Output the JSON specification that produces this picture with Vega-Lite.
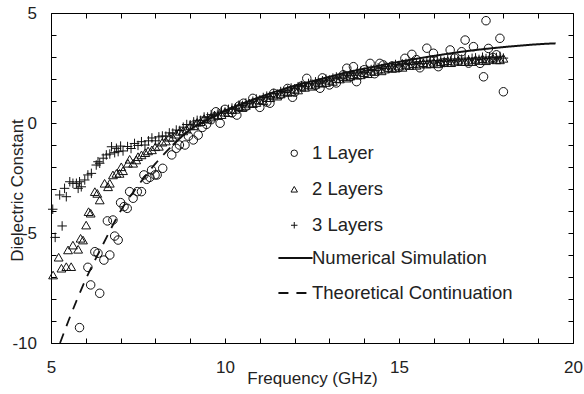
{
  "$schema": "https://vega.github.io/schema/vega-lite/v6.json",
  "width": 522,
  "height": 330,
  "autosize": {"type": "none"},
  "padding": {"left": 51, "top": 13, "right": 11, "bottom": 51},
  "background": "white",
  "config": {
    "view": {"stroke": "#000", "strokeWidth": 1},
    "font": "Liberation Sans",
    "axis": {"grid": false, "domain": false, "tickColor": "#000", "tickWidth": 1, "labelFont": "Liberation Sans", "titleFont": "Liberation Sans", "labelFontSize": 17, "titleFontSize": 17, "labelColor": "#222", "titleColor": "#222", "titleFontWeight": "normal", "labelFlush": false, "labelOverlap": false, "labelBound": false},
    "legend": {"labelFont": "Liberation Sans", "labelFontSize": 18.5, "labelColor": "#222", "labelLimit": 400, "padding": 0, "title": null}
  },
  "datasets": {
    "l1": [
      {"f": 5.82, "e": -9.3}, {"f": 6.06, "e": -6.56}, {"f": 6.14, "e": -7.36}, {"f": 6.26, "e": -5.85}, {"f": 6.35, "e": -5.92}, {"f": 6.4, "e": -7.74}, {"f": 6.52, "e": -6.23}, {"f": 6.62, "e": -4.45}, {"f": 6.69, "e": -6.0}, {"f": 6.78, "e": -4.41}, {"f": 6.83, "e": -5.14}, {"f": 6.93, "e": -5.32}, {"f": 7.0, "e": -3.62}, {"f": 7.1, "e": -3.8}, {"f": 7.19, "e": -3.88}, {"f": 7.26, "e": -3.12}, {"f": 7.36, "e": -3.42}, {"f": 7.48, "e": -3.12}, {"f": 7.6, "e": -3.12}, {"f": 7.67, "e": -2.36}, {"f": 7.75, "e": -2.56}, {"f": 7.84, "e": -2.47}, {"f": 7.89, "e": -2.14}, {"f": 7.99, "e": -2.36}, {"f": 8.05, "e": -2.36}, {"f": 8.21, "e": -2.06},
      {"f": 8.47, "e": -1.45}, {"f": 8.6, "e": -1.15}, {"f": 8.69, "e": -1.0}, {"f": 8.85, "e": -1.0}, {"f": 8.95, "e": -0.6}, {"f": 9.09, "e": -0.77}, {"f": 9.23, "e": -0.55}, {"f": 9.35, "e": -0.2}, {"f": 9.47, "e": -0.06}, {"f": 9.6, "e": 0.15}, {"f": 9.74, "e": 0.51}, {"f": 9.86, "e": -0.01},
      {"f": 10.0, "e": 0.62}, {"f": 10.2, "e": 0.46}, {"f": 10.34, "e": 0.36}, {"f": 10.4, "e": 0.77}, {"f": 10.53, "e": 0.9}, {"f": 10.6, "e": 0.75}, {"f": 10.8, "e": 1.12}, {"f": 11.0, "e": 0.71}, {"f": 11.2, "e": 0.95}, {"f": 11.29, "e": 0.9}, {"f": 11.4, "e": 1.35}, {"f": 11.6, "e": 1.3}, {"f": 11.8, "e": 1.57}, {"f": 11.94, "e": 1.17}, {"f": 12.0, "e": 1.4}, {"f": 12.2, "e": 1.68}, {"f": 12.35, "e": 2.03}, {"f": 12.6, "e": 1.71}, {"f": 12.73, "e": 1.58}, {"f": 12.8, "e": 2.05}, {"f": 13.0, "e": 1.73}, {"f": 13.2, "e": 1.82}, {"f": 13.4, "e": 2.19}, {"f": 13.5, "e": 2.49}, {"f": 13.6, "e": 2.11}, {"f": 13.69, "e": 2.56}, {"f": 13.78, "e": 1.88}, {"f": 14.0, "e": 2.42}, {"f": 14.17, "e": 2.71}, {"f": 14.3, "e": 2.24}, {"f": 14.45, "e": 2.71}, {"f": 14.55, "e": 2.64}, {"f": 14.8, "e": 2.59}, {"f": 15.0, "e": 2.52}, {"f": 15.17, "e": 2.94}, {"f": 15.37, "e": 3.12}, {"f": 15.5, "e": 2.88}, {"f": 15.6, "e": 2.51}, {"f": 15.8, "e": 3.4}, {"f": 15.99, "e": 3.17}, {"f": 16.0, "e": 2.87}, {"f": 16.13, "e": 2.56}, {"f": 16.3, "e": 2.75}, {"f": 16.47, "e": 3.32}, {"f": 16.6, "e": 2.95}, {"f": 16.8, "e": 3.24}, {"f": 16.9, "e": 3.77}, {"f": 17.0, "e": 2.72}, {"f": 17.14, "e": 3.47}, {"f": 17.33, "e": 2.71}, {"f": 17.43, "e": 2.1}, {"f": 17.5, "e": 4.65}, {"f": 17.57, "e": 3.39}, {"f": 17.7, "e": 2.98}, {"f": 17.8, "e": 3.1}, {"f": 17.9, "e": 3.85}, {"f": 18.0, "e": 1.42}
    ],
    "l2": [
      {"f": 5.06, "e": -6.91}, {"f": 5.22, "e": -6.1}, {"f": 5.3, "e": -6.6}, {"f": 5.44, "e": -6.53}, {"f": 5.49, "e": -5.77}, {"f": 5.58, "e": -6.53}, {"f": 5.63, "e": -5.55}, {"f": 5.78, "e": -5.74}, {"f": 5.85, "e": -5.24}, {"f": 5.92, "e": -5.32}, {"f": 6.01, "e": -4.64}, {"f": 6.08, "e": -4.03}, {"f": 6.14, "e": -4.1}, {"f": 6.26, "e": -3.12}, {"f": 6.33, "e": -3.2}, {"f": 6.4, "e": -3.5}, {"f": 6.54, "e": -2.74}, {"f": 6.64, "e": -2.9}, {"f": 6.69, "e": -2.74}, {"f": 6.78, "e": -2.36}, {"f": 6.88, "e": -2.29}, {"f": 6.97, "e": -2.29}, {"f": 7.02, "e": -1.99}, {"f": 7.07, "e": -2.17}, {"f": 7.21, "e": -1.83}, {"f": 7.26, "e": -1.65}, {"f": 7.36, "e": -1.83}, {"f": 7.45, "e": -1.68}, {"f": 7.5, "e": -1.53}, {"f": 7.6, "e": -1.45}, {"f": 7.71, "e": -1.35}, {"f": 7.79, "e": -1.27},
      {"f": 7.9, "e": -1.22}, {"f": 8.0, "e": -1.08}, {"f": 8.1, "e": -1.06}, {"f": 8.2, "e": -0.87}, {"f": 8.3, "e": -0.82}, {"f": 8.4, "e": -0.65}, {"f": 8.5, "e": -0.65}, {"f": 8.6, "e": -0.51}, {"f": 8.7, "e": -0.38}, {"f": 8.8, "e": -0.36}, {"f": 8.9, "e": -0.28}, {"f": 9.0, "e": -0.13}, {"f": 9.1, "e": -0.13}, {"f": 9.2, "e": 0.03}, {"f": 9.3, "e": 0.06}, {"f": 9.4, "e": 0.2}, {"f": 9.5, "e": 0.17}, {"f": 9.6, "e": 0.27}, {"f": 9.7, "e": 0.36}, {"f": 9.8, "e": 0.34}, {"f": 9.9, "e": 0.38},
      {"f": 10.0, "e": 0.49}, {"f": 10.1, "e": 0.47}, {"f": 10.2, "e": 0.61}, {"f": 10.3, "e": 0.62}, {"f": 10.4, "e": 0.74}, {"f": 10.5, "e": 0.7}, {"f": 10.6, "e": 0.8}, {"f": 10.7, "e": 0.9}, {"f": 10.8, "e": 0.88}, {"f": 10.9, "e": 0.93},
      {"f": 11.0, "e": 1.04}, {"f": 11.1, "e": 1.01}, {"f": 11.2, "e": 1.15}, {"f": 11.3, "e": 1.15}, {"f": 11.4, "e": 1.27}, {"f": 11.5, "e": 1.22}, {"f": 11.6, "e": 1.32}, {"f": 11.7, "e": 1.41}, {"f": 11.8, "e": 1.39}, {"f": 11.9, "e": 1.43},
      {"f": 12.0, "e": 1.54}, {"f": 12.1, "e": 1.5}, {"f": 12.2, "e": 1.63}, {"f": 12.3, "e": 1.62}, {"f": 12.4, "e": 1.73}, {"f": 12.5, "e": 1.67}, {"f": 12.6, "e": 1.76}, {"f": 12.7, "e": 1.84}, {"f": 12.8, "e": 1.81}, {"f": 12.9, "e": 1.84},
      {"f": 13.0, "e": 1.94}, {"f": 13.1, "e": 1.89}, {"f": 13.2, "e": 2.02}, {"f": 13.3, "e": 2.0}, {"f": 13.4, "e": 2.11}, {"f": 13.5, "e": 2.04}, {"f": 13.6, "e": 2.13}, {"f": 13.7, "e": 2.2}, {"f": 13.8, "e": 2.17}, {"f": 13.9, "e": 2.19},
      {"f": 14.0, "e": 2.29}, {"f": 14.1, "e": 2.24}, {"f": 14.2, "e": 2.36}, {"f": 14.3, "e": 2.34}, {"f": 14.4, "e": 2.44}, {"f": 14.5, "e": 2.37}, {"f": 14.6, "e": 2.45}, {"f": 14.7, "e": 2.52}, {"f": 14.8, "e": 2.48}, {"f": 14.9, "e": 2.5},
      {"f": 15.0, "e": 2.59}, {"f": 15.1, "e": 2.53}, {"f": 15.2, "e": 2.64}, {"f": 15.3, "e": 2.61}, {"f": 15.4, "e": 2.7}, {"f": 15.5, "e": 2.62}, {"f": 15.6, "e": 2.68}, {"f": 15.7, "e": 2.74}, {"f": 15.8, "e": 2.68}, {"f": 15.9, "e": 2.69},
      {"f": 16.0, "e": 2.76}, {"f": 16.1, "e": 2.69}, {"f": 16.2, "e": 2.79}, {"f": 16.3, "e": 2.75}, {"f": 16.4, "e": 2.83}, {"f": 16.5, "e": 2.74}, {"f": 16.6, "e": 2.8}, {"f": 16.7, "e": 2.85}, {"f": 16.8, "e": 2.79}, {"f": 16.9, "e": 2.79},
      {"f": 17.0, "e": 2.86}, {"f": 17.1, "e": 2.79}, {"f": 17.2, "e": 2.89}, {"f": 17.3, "e": 2.84}, {"f": 17.4, "e": 2.92}, {"f": 17.5, "e": 2.83}, {"f": 17.6, "e": 2.89}, {"f": 17.7, "e": 2.94}, {"f": 17.8, "e": 2.87}, {"f": 17.9, "e": 2.87}, {"f": 18.0, "e": 2.94}
    ],
    "l3": [
      {"f": 5.05, "e": -3.92}, {"f": 5.12, "e": -5.2}, {"f": 5.25, "e": -3.27}, {"f": 5.32, "e": -4.68}, {"f": 5.39, "e": -2.97}, {"f": 5.44, "e": -3.35}, {"f": 5.54, "e": -2.67}, {"f": 5.63, "e": -2.74}, {"f": 5.73, "e": -2.74}, {"f": 5.78, "e": -2.97}, {"f": 5.82, "e": -2.67}, {"f": 5.87, "e": -2.9}, {"f": 5.97, "e": -2.59}, {"f": 6.06, "e": -2.36}, {"f": 6.16, "e": -2.29}, {"f": 6.3, "e": -1.91}, {"f": 6.35, "e": -1.76}, {"f": 6.4, "e": -1.83}, {"f": 6.5, "e": -1.6}, {"f": 6.59, "e": -1.45}, {"f": 6.69, "e": -1.41}, {"f": 6.74, "e": -1.08}, {"f": 6.83, "e": -1.35}, {"f": 6.88, "e": -1.15}, {"f": 6.93, "e": -1.3}, {"f": 7.0, "e": -1.05}, {"f": 7.07, "e": -1.27},
      {"f": 7.2, "e": -1.07}, {"f": 7.3, "e": -1.16}, {"f": 7.4, "e": -0.93}, {"f": 7.5, "e": -1.02}, {"f": 7.6, "e": -0.85}, {"f": 7.7, "e": -1.0}, {"f": 7.8, "e": -0.81}, {"f": 7.9, "e": -0.68}, {"f": 8.0, "e": -0.81}, {"f": 8.1, "e": -0.63}, {"f": 8.2, "e": -0.59}, {"f": 8.3, "e": -0.6}, {"f": 8.4, "e": -0.45}, {"f": 8.5, "e": -0.46}, {"f": 8.6, "e": -0.32}, {"f": 8.7, "e": -0.34}, {"f": 8.8, "e": -0.19}, {"f": 8.9, "e": -0.07}, {"f": 9.0, "e": -0.08}, {"f": 9.1, "e": 0.05}, {"f": 9.2, "e": 0.12}, {"f": 9.3, "e": 0.12}, {"f": 9.4, "e": 0.27}, {"f": 9.5, "e": 0.27}, {"f": 9.6, "e": 0.38}, {"f": 9.7, "e": 0.33}, {"f": 9.8, "e": 0.45}, {"f": 9.9, "e": 0.54},
      {"f": 10.0, "e": 0.5}, {"f": 10.1, "e": 0.62}, {"f": 10.2, "e": 0.68}, {"f": 10.3, "e": 0.67}, {"f": 10.4, "e": 0.81}, {"f": 10.5, "e": 0.8}, {"f": 10.6, "e": 0.91}, {"f": 10.7, "e": 0.87}, {"f": 10.8, "e": 0.99}, {"f": 10.9, "e": 1.09},
      {"f": 11.0, "e": 1.05}, {"f": 11.1, "e": 1.16}, {"f": 11.2, "e": 1.22}, {"f": 11.3, "e": 1.2}, {"f": 11.4, "e": 1.34}, {"f": 11.5, "e": 1.32}, {"f": 11.6, "e": 1.43}, {"f": 11.7, "e": 1.38}, {"f": 11.8, "e": 1.5}, {"f": 11.9, "e": 1.59},
      {"f": 12.0, "e": 1.55}, {"f": 12.1, "e": 1.65}, {"f": 12.2, "e": 1.7}, {"f": 12.3, "e": 1.67}, {"f": 12.4, "e": 1.8}, {"f": 12.5, "e": 1.77}, {"f": 12.6, "e": 1.87}, {"f": 12.7, "e": 1.81}, {"f": 12.8, "e": 1.92}, {"f": 12.9, "e": 2.0},
      {"f": 13.0, "e": 1.95}, {"f": 13.1, "e": 2.04}, {"f": 13.2, "e": 2.09}, {"f": 13.3, "e": 2.05}, {"f": 13.4, "e": 2.18}, {"f": 13.5, "e": 2.14}, {"f": 13.6, "e": 2.24}, {"f": 13.7, "e": 2.17}, {"f": 13.8, "e": 2.28}, {"f": 13.9, "e": 2.35},
      {"f": 14.0, "e": 2.3}, {"f": 14.1, "e": 2.39}, {"f": 14.2, "e": 2.43}, {"f": 14.3, "e": 2.39}, {"f": 14.4, "e": 2.51}, {"f": 14.5, "e": 2.47}, {"f": 14.6, "e": 2.56}, {"f": 14.7, "e": 2.49}, {"f": 14.8, "e": 2.59}, {"f": 14.9, "e": 2.66},
      {"f": 15.0, "e": 2.6}, {"f": 15.1, "e": 2.68}, {"f": 15.2, "e": 2.71}, {"f": 15.3, "e": 2.66}, {"f": 15.4, "e": 2.77}, {"f": 15.5, "e": 2.72}, {"f": 15.6, "e": 2.79}, {"f": 15.7, "e": 2.71}, {"f": 15.8, "e": 2.79}, {"f": 15.9, "e": 2.85},
      {"f": 16.0, "e": 2.77}, {"f": 16.1, "e": 2.84}, {"f": 16.2, "e": 2.86}, {"f": 16.3, "e": 2.8}, {"f": 16.4, "e": 2.9}, {"f": 16.5, "e": 2.84}, {"f": 16.6, "e": 2.91}, {"f": 16.7, "e": 2.82}, {"f": 16.8, "e": 2.9}, {"f": 16.9, "e": 2.95},
      {"f": 17.0, "e": 2.87}, {"f": 17.1, "e": 2.94}, {"f": 17.2, "e": 2.96}, {"f": 17.3, "e": 2.89}, {"f": 17.4, "e": 2.99}, {"f": 17.5, "e": 2.93}, {"f": 17.6, "e": 3.0}, {"f": 17.7, "e": 2.91}, {"f": 17.8, "e": 2.98}, {"f": 17.9, "e": 3.03}, {"f": 18.0, "e": 2.95}
    ],
    "sim": [
      {"f": 8.5, "e": -1.0}, {"f": 9.0, "e": -0.3}, {"f": 9.5, "e": 0.15}, {"f": 10.0, "e": 0.55}, {"f": 10.5, "e": 0.88}, {"f": 11.0, "e": 1.18}, {"f": 11.5, "e": 1.45}, {"f": 12.0, "e": 1.7}, {"f": 12.5, "e": 1.9}, {"f": 13.0, "e": 2.1}, {"f": 13.5, "e": 2.3}, {"f": 14.0, "e": 2.47}, {"f": 14.5, "e": 2.63}, {"f": 15.0, "e": 2.78}, {"f": 15.5, "e": 2.92}, {"f": 16.0, "e": 3.05}, {"f": 16.5, "e": 3.17}, {"f": 17.0, "e": 3.28}, {"f": 17.5, "e": 3.37}, {"f": 18.0, "e": 3.45}, {"f": 18.5, "e": 3.52}, {"f": 19.0, "e": 3.58}, {"f": 19.5, "e": 3.62}
    ],
    "theory": [
      {"f": 5.26, "e": -10.0}, {"f": 5.5, "e": -9.0}, {"f": 6.0, "e": -7.1}, {"f": 6.5, "e": -5.5}, {"f": 7.0, "e": -4.0}, {"f": 7.5, "e": -2.85}, {"f": 8.0, "e": -1.85}, {"f": 8.5, "e": -1.0}
    ]
  },
  "resolve": {"scale": {"x": "independent", "y": "independent"}},
  "layer": [
    {
      "encoding": {
        "x": {"field": "f", "type": "quantitative", "scale": {"domain": [5, 20], "nice": false, "zero": false},
          "axis": {"orient": "bottom", "title": "Frequency (GHz)", "values": [5, 6, 7, 8, 9, 10, 11, 12, 13, 14, 15, 16, 17, 18, 19, 20], "labelExpr": "datum.value % 5 === 0 ? '' + datum.value : ''", "tickSize": -5, "labelPadding": 34, "labelBaseline": "alphabetic", "titleY": 40, "titleBaseline": "alphabetic"}},
        "y": {"field": "e", "type": "quantitative", "scale": {"domain": [-10, 5], "nice": false, "zero": false},
          "axis": {"orient": "left", "title": "Dielectric Constant", "values": [-10, -9, -8, -7, -6, -5, -4, -3, -2, -1, 0, 1, 2, 3, 4, 5], "labelExpr": "datum.value % 5 === 0 ? '' + datum.value : ''", "tickSize": -5, "labelPadding": 19.5, "titleX": -33.5, "titleY": 177, "titleBaseline": "middle"}}
      },
      "layer": [
        {
          "data": {"name": "l1"},
          "mark": {"type": "point", "filled": false, "size": 72, "strokeWidth": 1, "color": "#111", "opacity": 1},
          "encoding": {"shape": {"datum": "1 Layer", "type": "nominal",
            "scale": {"domain": ["1 Layer", "2 Layers", "3 Layers"], "range": ["circle", "triangle-up", "M-1,0H1M0,-1V1"]},
            "legend": {"orient": "none", "legendX": 234, "legendY": 131, "symbolSize": 42, "symbolStrokeWidth": 1, "symbolStrokeColor": "#111", "symbolFillColor": "transparent", "rowPadding": 17, "labelOffset": 8.5}}}
        },
        {
          "data": {"name": "l2"},
          "mark": {"type": "point", "filled": false, "size": 78, "strokeWidth": 1, "color": "#111", "opacity": 1},
          "encoding": {"shape": {"datum": "2 Layers", "type": "nominal",
            "scale": {"domain": ["1 Layer", "2 Layers", "3 Layers"], "range": ["circle", "triangle-up", "M-1,0H1M0,-1V1"]}}}
        },
        {
          "data": {"name": "l3"},
          "mark": {"type": "point", "filled": false, "size": 90, "strokeWidth": 1, "color": "#111", "opacity": 1},
          "encoding": {"shape": {"datum": "3 Layers", "type": "nominal",
            "scale": {"domain": ["1 Layer", "2 Layers", "3 Layers"], "range": ["circle", "triangle-up", "M-1,0H1M0,-1V1"]}}}
        },
        {
          "data": {"name": "theory"},
          "mark": {"type": "line", "color": "#111", "strokeWidth": 1.8, "interpolate": "monotone"},
          "encoding": {"strokeDash": {"datum": "Theoretical Continuation", "type": "nominal",
            "scale": {"domain": ["Numerical Simulation", "Theoretical Continuation"], "range": [[1, 0], [10, 8]]},
            "legend": {"orient": "none", "legendX": 226, "legendY": 226.5, "symbolType": "stroke", "symbolSize": 1166, "symbolStrokeWidth": 2, "symbolStrokeColor": "#111", "rowPadding": 7, "labelOffset": -2}}}
        },
        {
          "data": {"name": "sim"},
          "mark": {"type": "line", "color": "#111", "strokeWidth": 2, "interpolate": "monotone"},
          "encoding": {"strokeDash": {"datum": "Numerical Simulation", "type": "nominal",
            "scale": {"domain": ["Numerical Simulation", "Theoretical Continuation"], "range": [[1, 0], [10, 8]]}}}
        }
      ]
    },
    {
      "data": {"name": "sim"},
      "mark": {"type": "point", "opacity": 0},
      "encoding": {
        "x": {"field": "f", "type": "quantitative", "scale": {"domain": [5, 20], "nice": false, "zero": false},
          "axis": {"orient": "top", "title": null, "labels": false, "values": [5, 6, 7, 8, 9, 10, 11, 12, 13, 14, 15, 16, 17, 18, 19, 20], "tickSize": -5}},
        "y": {"field": "e", "type": "quantitative", "scale": {"domain": [-10, 5], "nice": false, "zero": false},
          "axis": {"orient": "right", "title": null, "labels": false, "values": [-10, -9, -8, -7, -6, -5, -4, -3, -2, -1, 0, 1, 2, 3, 4, 5], "tickSize": -5}}
      }
    }
  ]
}
